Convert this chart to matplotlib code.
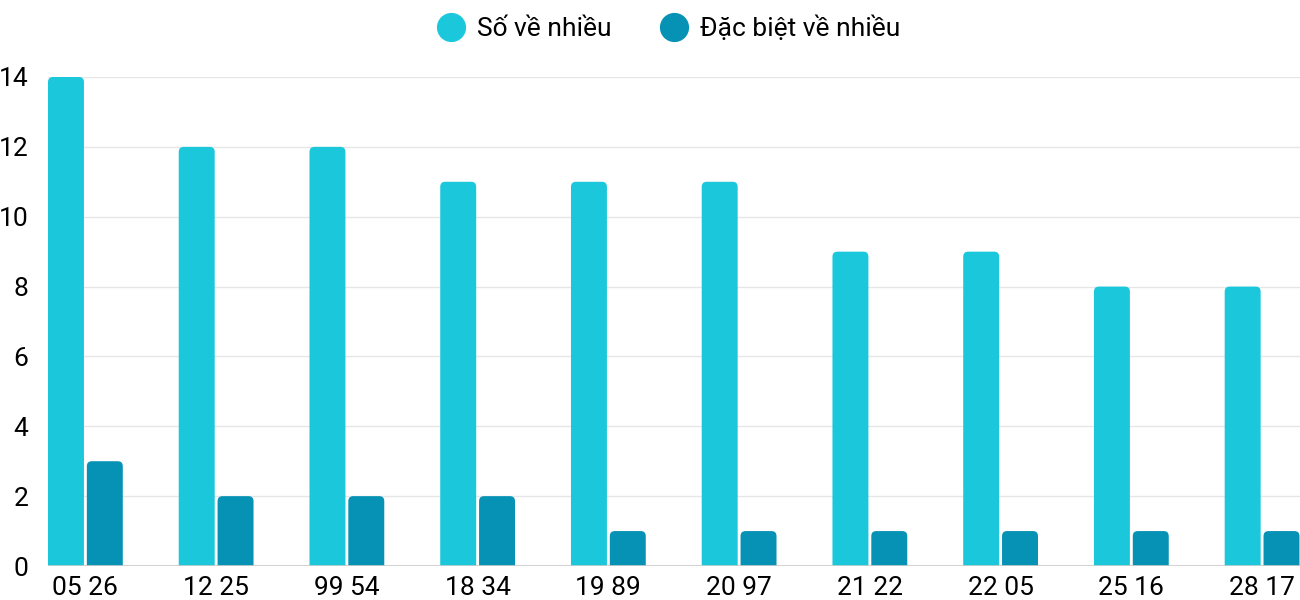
import matplotlib
matplotlib.use("Agg")
import matplotlib.pyplot as plt
from matplotlib.patches import FancyBboxPatch
from matplotlib.lines import Line2D
import numpy as np

categories = ["05 26", "12 25", "99 54", "18 34", "19 89", "20 97", "21 22", "22 05", "25 16", "28 17"]
so_ve_nhieu = [14, 12, 12, 11, 11, 11, 9, 9, 8, 8]
dac_biet = [3, 2, 2, 2, 1, 1, 1, 1, 1, 1]
series_names = ["Số về nhiều", "Đặc biệt về nhiều"]
colors_ = ["#1bc8db", "#0592b5"]
yticks = [0, 2, 4, 6, 8, 10, 12, 14]

plt.rcParams['font.family'] = ['Roboto', 'DejaVu Sans']

fig = plt.figure(figsize=(13, 6), dpi=100)
ax = fig.add_axes([48 / 1300, 34 / 600, 1252 / 1300, 489 / 600])

x = np.arange(len(categories))
w = 0.275
off = 0.1485
xlim = (-0.286, 9.29)
ylim = (0, 14)
ax.set_xlim(*xlim)
ax.set_ylim(*ylim)

# rounded top corners: same radius in pixels both ways
xu = (xlim[1] - xlim[0]) / 1252
yu = (ylim[1] - ylim[0]) / 489
r = 5 * xu
aspect = yu / xu

for vals, dx, c in [(so_ve_nhieu, -off, colors_[0]), (dac_biet, off, colors_[1])]:
    bars = ax.bar(x + dx, vals, width=w, color=c)
    for b in bars:
        b.set_visible(False)
        ext = r * aspect
        p = FancyBboxPatch((b.get_x(), -ext), b.get_width(), b.get_height() + ext,
                           boxstyle=f"round,pad=0,rounding_size={r}",
                           mutation_aspect=aspect, facecolor=c, edgecolor="none",
                           zorder=3)
        ax.add_patch(p)

ax.set_yticks(yticks)
ax.set_xticks(x)
ax.set_xticklabels(categories)
ax.tick_params(axis='both', length=0, labelsize=19, colors="#000000")
ax.tick_params(axis='y', pad=14)
ax.tick_params(axis='x', pad=7)
for lab in ax.get_yticklabels():
    lab.set_horizontalalignment('right')
ax.grid(axis='y', color="#e6e6e6", linewidth=1, zorder=0)
ax.set_axisbelow(True)
for s in ax.spines.values():
    s.set_visible(False)
ax.axhline(0, color="#cccccc", linewidth=1.2, zorder=4)

handles = [Line2D([], [], marker='o', linestyle='none', markersize=20,
                  markerfacecolor=c, markeredgecolor=c) for c in colors_]
fig.legend(handles, series_names, loc='center', bbox_to_anchor=(0.5135, 1 - 28 / 600),
           ncol=2, frameon=False, fontsize=19, handletextpad=0.4, columnspacing=1.75,
           handlelength=1.2)

fig.savefig("out.png", dpi=100)
